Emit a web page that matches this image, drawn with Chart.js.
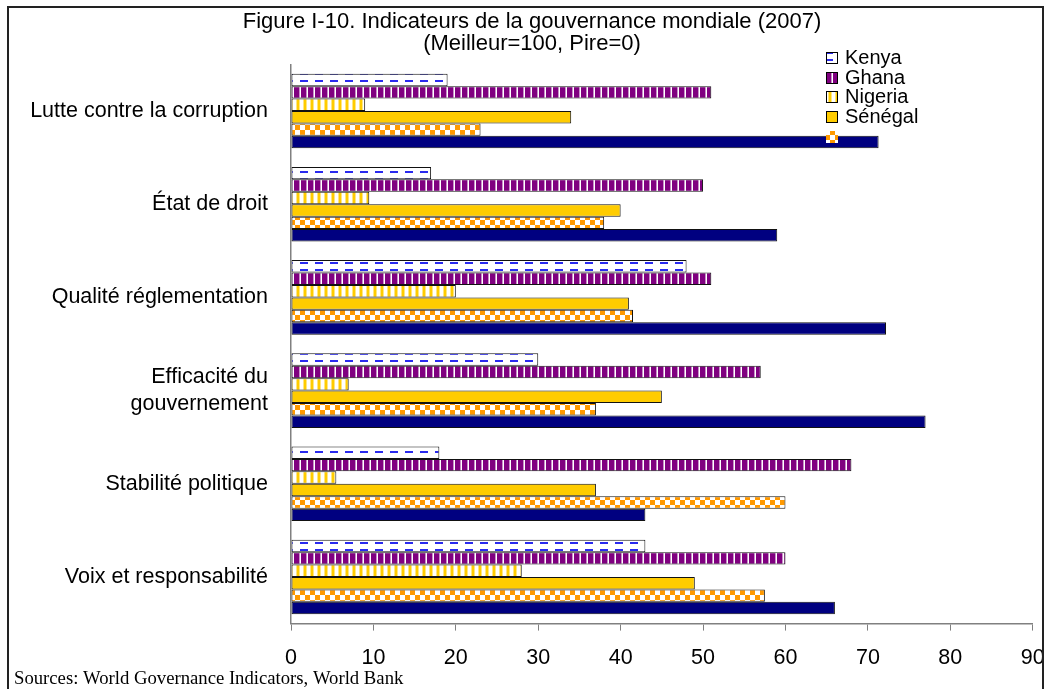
<!DOCTYPE html>
<html><head><meta charset="utf-8">
<script src="https://cdn.jsdelivr.net/npm/chart.js@4.4.1/dist/chart.umd.min.js"></script>
<style>html,body{margin:0;padding:0;background:#fff;}#wrap{width:1049px;height:689px;}</style>
</head><body><div id="wrap"><canvas id="c" width="1049" height="689"></canvas></div>
<script>
// ---- data ----
const categories = ['Lutte contre la corruption', 'État de droit', 'Qualité réglementation', ['Efficacité du', 'gouvernement'], 'Stabilité politique', 'Voix et responsabilité'];
const kenya   = [19, 17, 48, 30, 18, 43];
const ghana   = [51, 50, 51, 57, 68, 60];
const nigeria = [9, 9.5, 20, 7, 5.5, 28];
const senegal = [34, 40, 41, 45, 37, 49];
const serie5  = [23, 38, 41.5, 37, 60, 57.5];
const serie6  = [71.3, 59, 72.2, 77, 43, 66];
const seriesNames = ['Kenya', 'Ghana', 'Nigeria', 'Sénégal', '', ''];
const xTickValues = [0, 10, 20, 30, 40, 50, 60, 70, 80, 90];
const titleLines = ['Figure I-10. Indicateurs de la gouvernance mondiale (2007)', '(Meilleur=100, Pire=0)'];
const sourceText = 'Sources: World Governance Indicators, World Bank';

// ---- patterns ----
function makePattern(w, h, draw) {
  const c = document.createElement('canvas'); c.width = w; c.height = h;
  const g = c.getContext('2d'); draw(g, w, h);
  return document.getElementById('c').getContext('2d').createPattern(c, 'repeat');
}
const patKenya = makePattern(15, 7, (g, w, h) => {
  g.fillStyle = '#fff'; g.fillRect(0, 0, w, h);
  g.fillStyle = '#2a2aee'; g.fillRect(0, 3, 8, 2);
});
const patGhana = makePattern(7, 7, (g, w, h) => {
  g.fillStyle = '#fff'; g.fillRect(0, 0, w, h);
  g.fillStyle = '#800080'; g.fillRect(0, 0, 5, h);
  g.fillStyle = '#c890c8'; g.fillRect(5, 0, 1, h);
});
const patNigeria = makePattern(7, 7, (g, w, h) => {
  g.fillStyle = '#fff'; g.fillRect(0, 0, w, h);
  g.fillStyle = '#ffe680'; g.fillRect(2, 0, 1, h); g.fillRect(5, 0, 1, h);
  g.fillStyle = '#ffcc00'; g.fillRect(3, 0, 2, h);
});
const patChecker = makePattern(10, 10, (g, w, h) => {
  g.fillStyle = '#fff'; g.fillRect(0, 0, w, h);
  g.fillStyle = '#ff9900'; g.fillRect(0, 0, 5, 5); g.fillRect(5, 5, 5, 5);
});

const fills = [patKenya, patGhana, patNigeria, '#ffcc00', patChecker, '#000080'];
const values = [kenya, ghana, nigeria, senegal, serie5, serie6];
const FONT = '"Liberation Sans", Arial, sans-serif';

const overlay = {
  id: 'overlay',
  afterDraw(chart) {
    const ctx = chart.ctx;
    ctx.save();
    // frame
    ctx.strokeStyle = '#222'; ctx.lineWidth = 2;
    ctx.strokeRect(8, 7, 1035, 700);
    // title
    ctx.fillStyle = '#000'; ctx.textAlign = 'center'; ctx.textBaseline = 'middle';
    ctx.font = '22px ' + FONT;
    ctx.fillText(titleLines[0], 532, 22);
    ctx.fillText(titleLines[1], 532, 44);
    // sources
    ctx.textAlign = 'left'; ctx.textBaseline = 'alphabetic';
    ctx.font = '18.7px "Liberation Serif", "Times New Roman", serif';
    ctx.fillText(sourceText, 14, 684);
    // legend
    const ys = [58, 78, 97, 117, 137];
    ctx.font = '20px ' + FONT; ctx.textBaseline = 'middle';
    for (let i = 0; i < ys.length; i++) {
      const bx = 826, by = ys[i] - 6;
      ctx.fillStyle = fills[i];
      ctx.fillRect(bx, by, 12, 12);
      if (i < 4) { ctx.strokeStyle = '#000'; ctx.lineWidth = 1; ctx.strokeRect(bx + 0.5, by + 0.5, 11, 11); }
      ctx.fillStyle = '#000';
      ctx.fillText(seriesNames[i], 845, ys[i]);
    }
    ctx.restore();
  }
};

new Chart(document.getElementById('c'), {
  type: 'bar',
  data: {
    labels: categories,
    datasets: values.map((v, i) => ({
      label: seriesNames[i], data: v, backgroundColor: fills[i],
      borderColor: '#111', borderWidth: 1, borderSkipped: false,
      categoryPercentage: 0.8, barPercentage: 1.0
    }))
  },
  options: {
    indexAxis: 'y', responsive: false, animation: false, devicePixelRatio: 1,
    layout: { padding: { top: 64.4, right: 16.3, left: 0, bottom: 0 } },
    plugins: { legend: { display: false }, title: { display: false }, tooltip: { enabled: false } },
    scales: {
      x: {
        min: 0, max: 90,
        afterBuildTicks(s) { s.ticks = xTickValues.map(v => ({ value: v })); },
        ticks: { color: '#000', font: { family: FONT, size: 21.5 }, padding: 15, maxRotation: 0 },
        grid: { drawOnChartArea: false, drawTicks: true, tickLength: 7, color: '#808080' },
        border: { display: true, color: '#808080', width: 1.5 },
        afterFit(s) { s.height = 65.4; s.paddingLeft = 0; s.paddingRight = 0; }
      },
      y: {
        ticks: { color: '#000', font: { family: FONT, size: 21.5, lineHeight: 1.25 }, padding: 23 },
        grid: { display: false, drawTicks: false },
        border: { display: true, color: '#808080', width: 1.5 },
        afterFit(s) { s.width = 291; s.paddingTop = 0; s.paddingBottom = 0; }
      }
    }
  },
  plugins: [overlay]
});
</script>
</body></html>
